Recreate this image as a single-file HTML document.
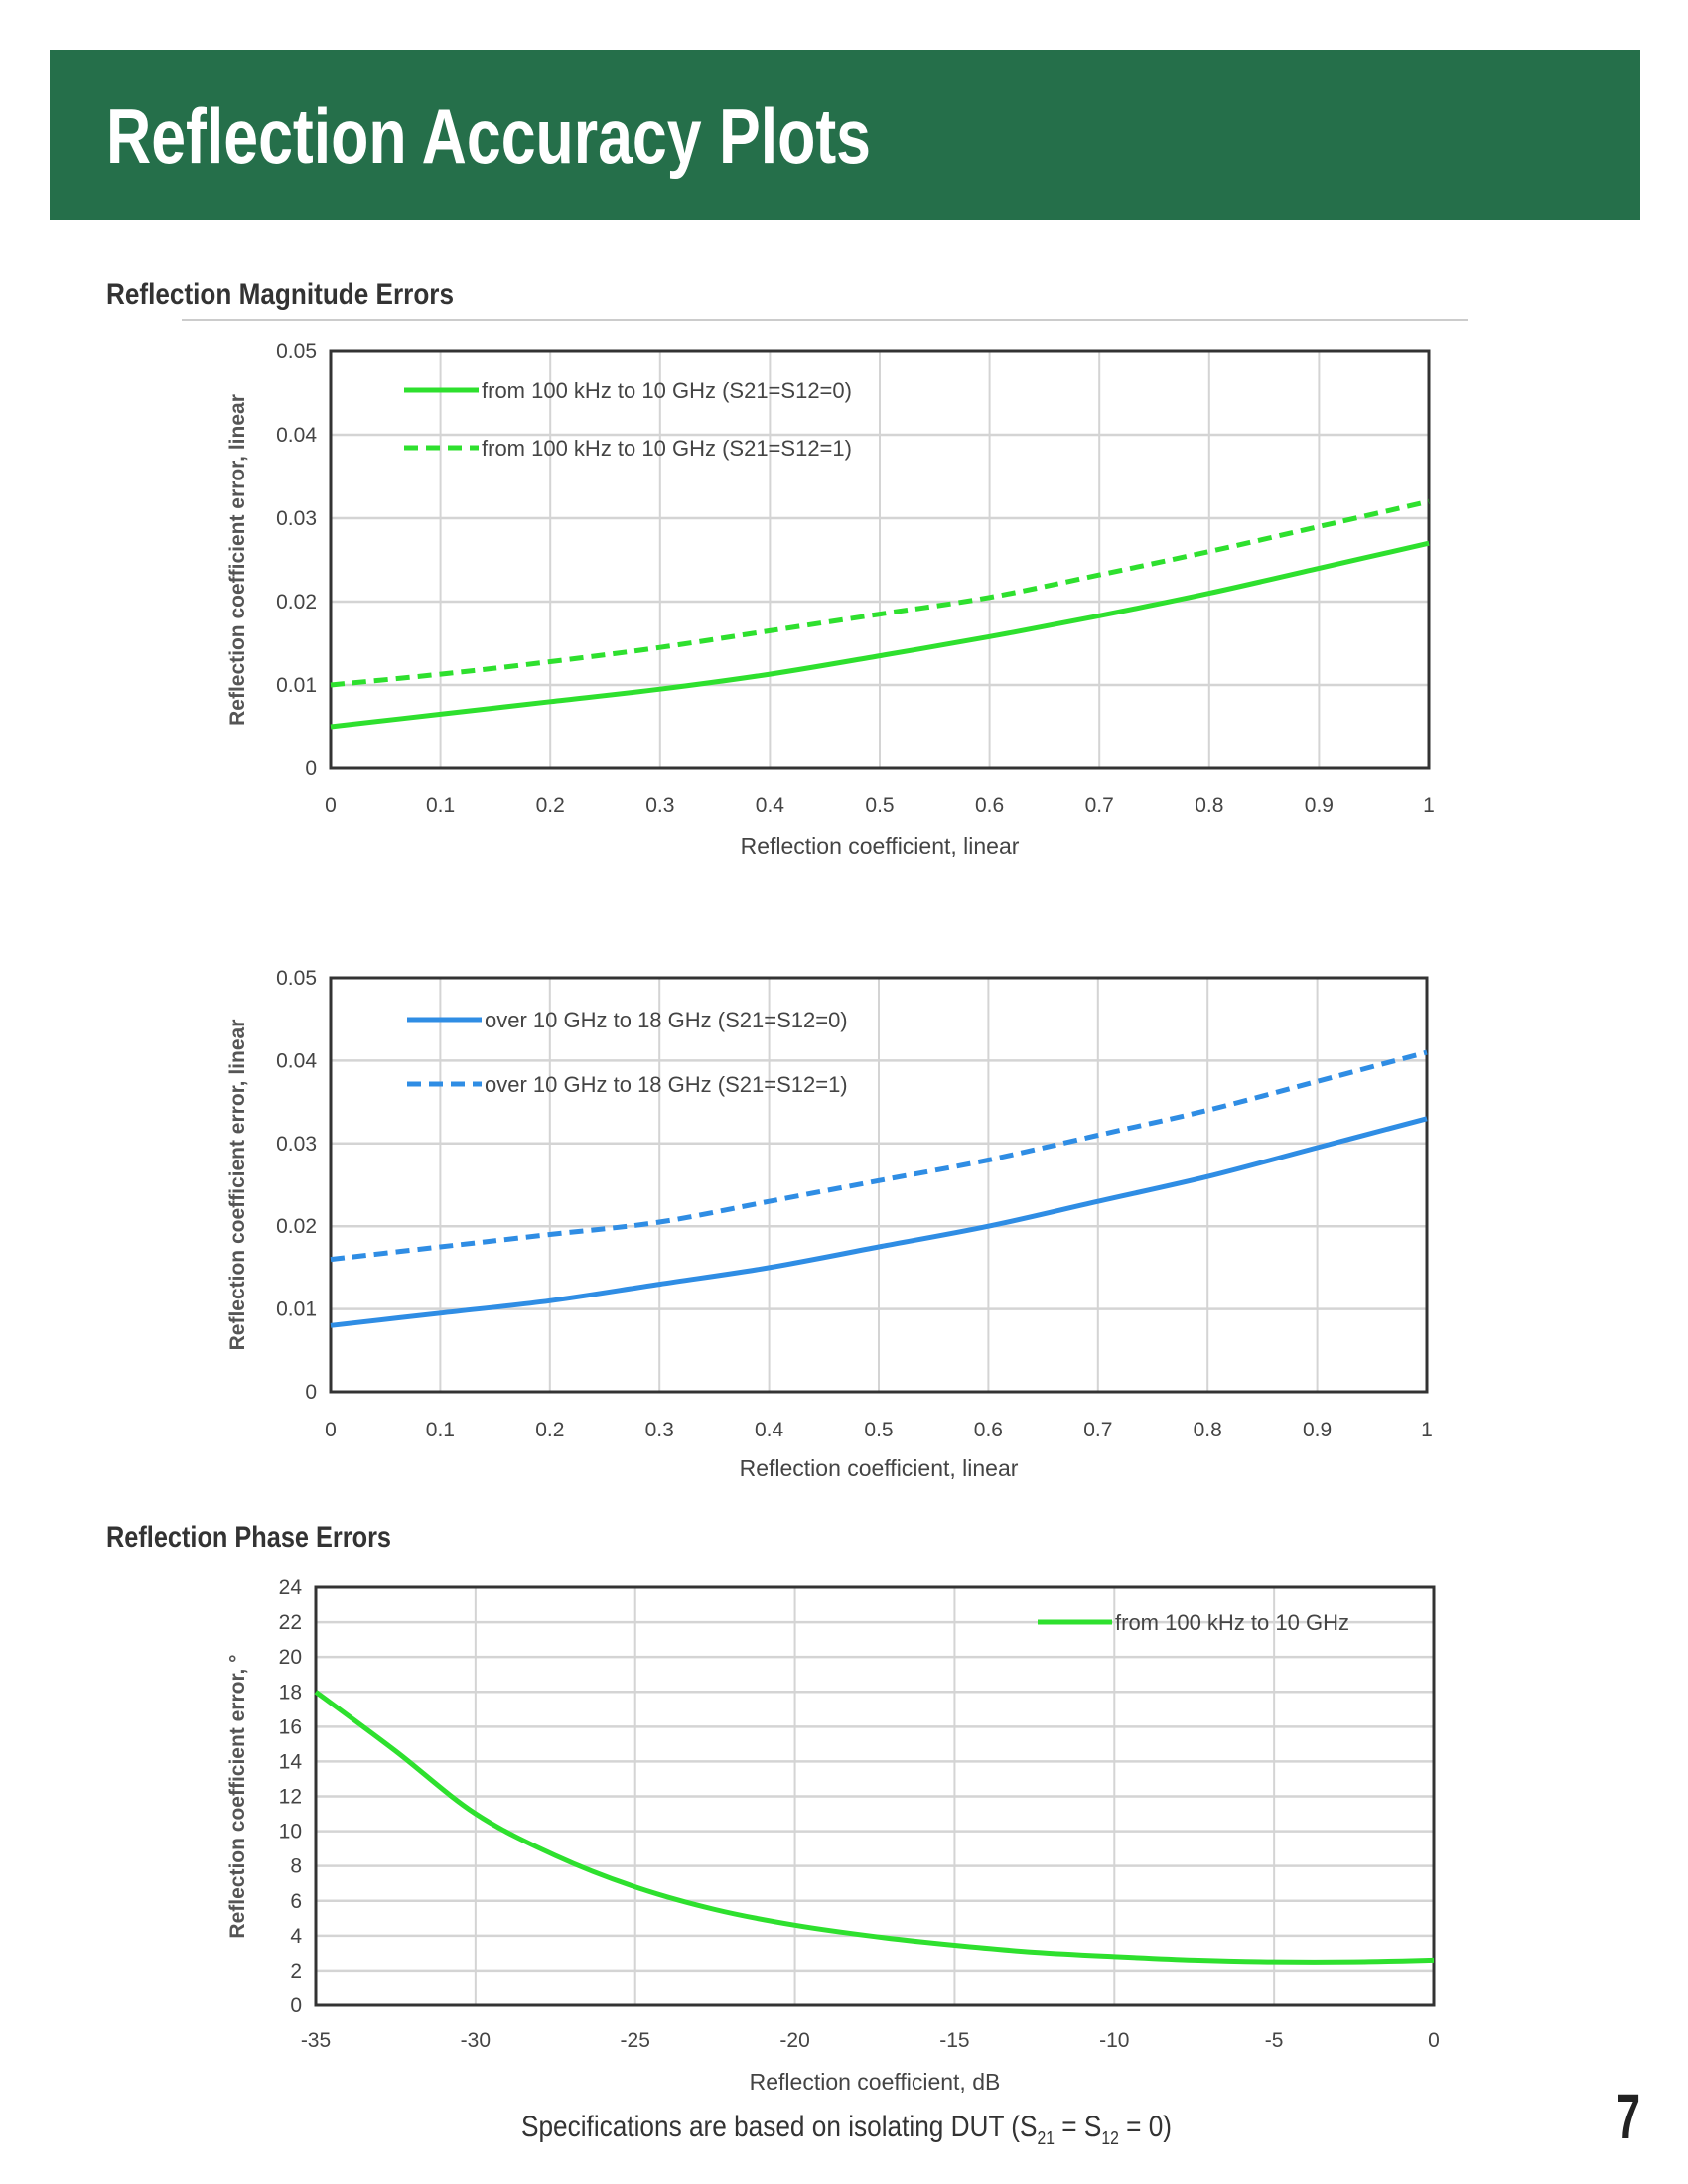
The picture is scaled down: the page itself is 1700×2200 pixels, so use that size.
<!DOCTYPE html>
<html><head><meta charset="utf-8"><style>
html,body{margin:0;padding:0;background:#fff;}
svg{display:block;}
text{font-family:"Liberation Sans",sans-serif;}
</style></head><body>
<svg id="page" width="1700" height="2200" viewBox="0 0 1700 2200" xmlns="http://www.w3.org/2000/svg">
<rect x="50" y="50" width="1602" height="172" fill="#256f4a"/>
<text x="107" y="164" font-size="78" font-weight="bold" fill="#fff" textLength="770" lengthAdjust="spacingAndGlyphs">Reflection Accuracy Plots</text>
<text x="107" y="306" font-size="30" font-weight="bold" fill="#333" textLength="350" lengthAdjust="spacingAndGlyphs">Reflection Magnitude Errors</text>
<line x1="183" y1="322" x2="1478" y2="322" stroke="#ccc" stroke-width="2"/>
<text x="107" y="1558" font-size="30" font-weight="bold" fill="#333" textLength="287" lengthAdjust="spacingAndGlyphs">Reflection Phase Errors</text>
<text x="525" y="2152" font-size="30" fill="#333" textLength="655" lengthAdjust="spacingAndGlyphs">Specifications are based on isolating DUT (S<tspan font-size="18" dy="8">21</tspan><tspan dy="-8"> = S</tspan><tspan font-size="18" dy="8">12</tspan><tspan dy="-8"> = 0)</tspan></text>
<text x="1628" y="2154" font-size="64" font-weight="bold" fill="#222" textLength="24" lengthAdjust="spacingAndGlyphs">7</text>
<g id="charts"></g>
</svg>
<script>
// Chart 1 data
const c1X = [0,0.1,0.2,0.3,0.4,0.5,0.6,0.7,0.8,0.9,1];
const c1Solid = [0.005,0.0065,0.008,0.0095,0.0113,0.0135,0.0158,0.0183,0.021,0.024,0.027];
const c1Dashed = [0.010,0.0113,0.0128,0.0145,0.0165,0.0185,0.0205,0.0232,0.026,0.029,0.032];
const c1XTicks = ["0","0.1","0.2","0.3","0.4","0.5","0.6","0.7","0.8","0.9","1"];
const c1YTicks = ["0","0.01","0.02","0.03","0.04","0.05"];
// Chart 2 data
const c2X = [0,0.1,0.2,0.3,0.4,0.5,0.6,0.7,0.8,0.9,1];
const c2Solid = [0.008,0.0095,0.011,0.013,0.015,0.0175,0.020,0.023,0.026,0.0295,0.033];
const c2Dashed = [0.016,0.0175,0.019,0.0205,0.023,0.0255,0.028,0.031,0.034,0.0375,0.041];
// Chart 3 data
const c3X = [-35,-32.5,-30,-27.5,-25,-22.5,-20,-17.5,-15,-12.5,-10,-7.5,-5,-2.5,0];
const c3Y = [18,14.6,11,8.6,6.8,5.5,4.6,3.95,3.45,3.05,2.8,2.6,2.5,2.5,2.6];
const c3XTicks = ["-35","-30","-25","-20","-15","-10","-5","0"];
const c3YTicks = ["0","2","4","6","8","10","12","14","16","18","20","22","24"];

const NS="http://www.w3.org/2000/svg";
const root=document.getElementById('charts');
function mk(tag,attrs,parent){const e=document.createElementNS(NS,tag);for(const k in attrs)e.setAttribute(k,attrs[k]);(parent||root).appendChild(e);return e;}

function smoothPath(pts){
  let d='M'+pts[0][0].toFixed(1)+','+pts[0][1].toFixed(1);
  for(let i=0;i<pts.length-1;i++){
    const p0=pts[i-1]||pts[i],p1=pts[i],p2=pts[i+1],p3=pts[i+2]||p2;
    const c1=[p1[0]+(p2[0]-p0[0])/6,p1[1]+(p2[1]-p0[1])/6];
    const c2=[p2[0]-(p3[0]-p1[0])/6,p2[1]-(p3[1]-p1[1])/6];
    d+=` C${c1[0].toFixed(1)},${c1[1].toFixed(1)} ${c2[0].toFixed(1)},${c2[1].toFixed(1)} ${p2[0].toFixed(1)},${p2[1].toFixed(1)}`;
  }
  return d;
}

function chart(o){
  const g=mk('g',{});
  
  
  const sx=v=>o.x0+(v-o.xmin)/(o.xmax-o.xmin)*(o.x1-o.x0);
  const sy=v=>o.y1-(v-o.ymin)/(o.ymax-o.ymin)*(o.y1-o.y0);
  o.xticks.forEach(t=>{const v=parseFloat(t);
    const l=mk('line',{x1:sx(v),x2:sx(v),y1:o.y0,y2:o.y1,stroke:'#d4d4d4','stroke-width':2},g);
    
    const tx=mk('text',{x:sx(v),y:o.xlabY,'font-size':21,fill:'#444','text-anchor':'middle'},g);
    tx.textContent=t;});
  o.yticks.forEach(t=>{const v=parseFloat(t);
    const l=mk('line',{x1:o.x0,x2:o.x1,y1:sy(v),y2:sy(v),stroke:'#d4d4d4','stroke-width':2.5},g);
    
    const tx=mk('text',{x:o.x0-14,y:sy(v)+7,'font-size':21,fill:'#444','text-anchor':'end'},g);
    tx.textContent=t;});
  const b=mk('rect',{x:o.x0,y:o.y0,width:o.x1-o.x0,height:o.y1-o.y0,fill:'none',stroke:'#333','stroke-width':3},g);
  
  o.series.forEach(s=>{
    const pts=s.x.map((v,i)=>[sx(v),sy(s.y[i])]);
    const p=mk('path',{d:smoothPath(pts),fill:'none',stroke:s.color,'stroke-width':5,'stroke-dasharray':s.dash?'14 8':'none','stroke-linejoin':'round'},g);
    
    const ll=mk('line',{x1:s.lx,x2:s.lx+75,y1:s.ly,y2:s.ly,stroke:s.color,'stroke-width':5,'stroke-dasharray':s.dash?'14 8':'none'},g);
    
    const lt=mk('text',{x:s.lx+78,y:s.ly+8,'font-size':22,fill:'#444'},g);
    lt.textContent=s.label;
  });
  const xt=mk('text',{x:(o.x0+o.x1)/2,y:o.xtitleY,'font-size':23,fill:'#444','text-anchor':'middle'},g);
  xt.textContent=o.xtitle;
  const cy=(o.y0+o.y1)/2;
  const yt=mk('text',{x:o.ytitleX,y:cy,'font-size':21,'font-weight':'bold',fill:'#555','text-anchor':'middle',transform:`rotate(-90 ${o.ytitleX} ${cy})`},g);
  yt.textContent=o.ytitle;
}
const G='#2ee02e',B='#2f8de4';
chart({name:'magnitude-chart-10ghz',x0:333,x1:1439,y0:354,y1:774,xmin:0,xmax:1,ymin:0,ymax:0.05,
  xticks:c1XTicks,yticks:c1YTicks,xlabY:818,xtitleY:860,ytitleX:246,
  xtitle:'Reflection coefficient, linear',ytitle:'Reflection coefficient error, linear',
  series:[{name:'series-solid-s21-0',x:c1X,y:c1Solid,color:G,lx:407,ly:393,label:'from 100 kHz to 10 GHz (S21=S12=0)'},
          {name:'series-dashed-s21-1',x:c1X,y:c1Dashed,color:G,dash:true,lx:407,ly:451,label:'from 100 kHz to 10 GHz (S21=S12=1)'}]});
chart({name:'magnitude-chart-18ghz',x0:333,x1:1437,y0:985,y1:1402,xmin:0,xmax:1,ymin:0,ymax:0.05,
  xticks:c1XTicks,yticks:c1YTicks,xlabY:1447,xtitleY:1487,ytitleX:246,
  xtitle:'Reflection coefficient, linear',ytitle:'Reflection coefficient error, linear',
  series:[{name:'series-solid-s21-0',x:c2X,y:c2Solid,color:B,lx:410,ly:1027,label:'over 10 GHz to 18 GHz (S21=S12=0)'},
          {name:'series-dashed-s21-1',x:c2X,y:c2Dashed,color:B,dash:true,lx:410,ly:1092,label:'over 10 GHz to 18 GHz (S21=S12=1)'}]});
chart({name:'phase-chart',x0:318,x1:1444,y0:1599,y1:2020,xmin:-35,xmax:0,ymin:0,ymax:24,
  xticks:c3XTicks,yticks:c3YTicks,xlabY:2062,xtitleY:2105,ytitleX:246,
  xtitle:'Reflection coefficient, dB',ytitle:'Reflection coefficient error, °',
  series:[{name:'series-phase-error',x:c3X,y:c3Y,color:G,lx:1045,ly:1634,label:'from 100 kHz to 10 GHz'}]});
</script>
</body></html>
